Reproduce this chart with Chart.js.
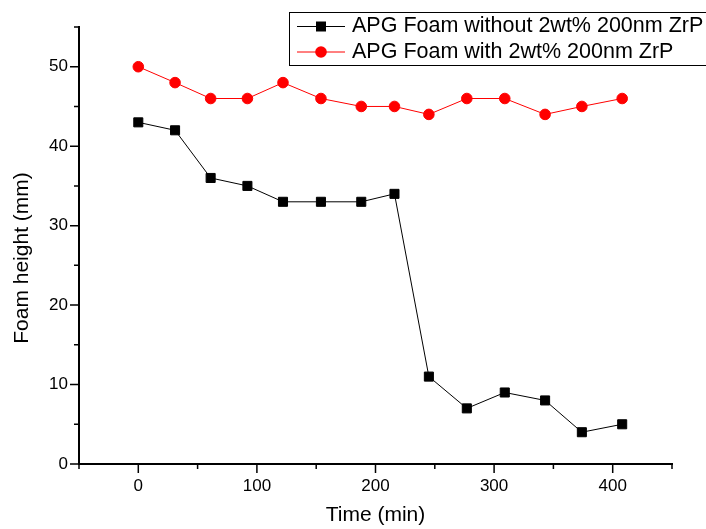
<!DOCTYPE html>
<html>
<head>
<meta charset="utf-8">
<script src="https://cdn.jsdelivr.net/npm/chart.js@4/dist/chart.umd.min.js"></script>
<style>
  html, body { margin: 0; padding: 0; background: #fff; }
  canvas { display: block; }
</style>
</head>
<body>
<canvas id="foamChart" width="706" height="529"></canvas>
<script>
// FOAM HEIGHT vs TIME

const timeMin = [0, 31, 61, 92, 122, 154, 188, 216, 245, 277, 309, 343, 374, 408];
const foamWithout = [43, 42, 36, 35, 33, 33, 33, 34, 11, 7, 9, 8, 4, 5];
const foamWith = [50, 48, 46, 46, 48, 46, 45, 45, 44, 46, 46, 44, 45, 46];

const seriesLabels = [
  "APG Foam without 2wt% 200nm ZrP",
  "APG Foam with 2wt% 200nm ZrP",
];
const xTitle = "Time (min)";
const yTitle = "Foam height (mm)";

const FONT = "'Liberation Sans', Arial, sans-serif";

const toPoints = (ys) => timeMin.map((t, i) => ({ x: t, y: ys[i] }));

// ticks: long ones at labelled values, short ones in between
const tickMarks = {
  id: "tickMarks",
  afterDraw(chart) {
    const ctx = chart.ctx;
    const xs = chart.scales.x;
    const ys = chart.scales.y;
    ctx.save();
    ctx.strokeStyle = "#000";
    ctx.lineWidth = 1.5;
    ctx.beginPath();
    xs.ticks.forEach((t) => {
      const px = xs.getPixelForValue(t.value);
      const len = t.value % 100 === 0 ? 9 : 5;
      ctx.moveTo(px, xs.top);
      ctx.lineTo(px, xs.top + len);
    });
    ys.ticks.forEach((t) => {
      const py = ys.getPixelForValue(t.value);
      const len = t.value % 10 === 0 ? 9 : 5;
      ctx.moveTo(ys.right, py);
      ctx.lineTo(ys.right - len, py);
    });
    ctx.stroke();

    // y axis title
    ctx.fillStyle = "#000";
    ctx.font = "21px " + FONT;
    ctx.textAlign = "center";
    ctx.textBaseline = "middle";
    ctx.translate(22, 258);
    ctx.rotate(-Math.PI / 2);
    ctx.fillText(yTitle, 0, 0);
    ctx.restore();
  },
};

// boxed legend in the top right corner
const boxLegend = {
  id: "boxLegend",
  afterDraw(chart) {
    const ctx = chart.ctx;
    const rows = [26.5, 52];
    ctx.save();
    ctx.strokeStyle = "#000";
    ctx.lineWidth = 1;
    ctx.strokeRect(289.5, 12.5, 430, 53);
    chart.data.datasets.forEach((ds, i) => {
      const y = rows[i];
      ctx.strokeStyle = ds.borderColor;
      ctx.lineWidth = 1;
      ctx.beginPath();
      ctx.moveTo(297, y);
      ctx.lineTo(345, y);
      ctx.stroke();
      ctx.fillStyle = ds.backgroundColor;
      ctx.beginPath();
      if (ds.pointStyle === "rect") {
        ctx.rect(321 - 5, y - 5, 10, 10);
      } else {
        ctx.arc(321, y, 5.8, 0, Math.PI * 2);
      }
      ctx.fill();
      ctx.fillStyle = "#000";
      ctx.font = "21.5px " + FONT;
      ctx.textAlign = "left";
      ctx.textBaseline = "middle";
      ctx.fillText(ds.label, 352, y);
    });
    ctx.restore();
  },
};

new Chart(document.getElementById("foamChart"), {
  type: "scatter",
  data: {
    datasets: [
      {
        label: seriesLabels[0],
        data: toPoints(foamWithout),
        showLine: true,
        borderColor: "#000",
        backgroundColor: "#000",
        borderWidth: 1,
        pointStyle: "rect",
        pointRadius: 6.4,
        pointBorderWidth: 1,
      },
      {
        label: seriesLabels[1],
        data: toPoints(foamWith),
        showLine: true,
        borderColor: "#ff0000",
        backgroundColor: "#ff0000",
        borderWidth: 1,
        pointStyle: "circle",
        pointRadius: 5.3,
        pointBorderWidth: 1,
      },
    ],
  },
  options: {
    responsive: false,
    animation: false,
    devicePixelRatio: 1,
    layout: {
      padding: { top: 27, right: 34, left: 0, bottom: 0 },
    },
    plugins: {
      legend: { display: false },
      tooltip: { enabled: false },
    },
    scales: {
      x: {
        type: "linear",
        min: -50,
        max: 450,
        afterFit: (scale) => {
          scale.height = 65;
        },
        grid: { display: false },
        border: { display: true, color: "#000", width: 2 },
        ticks: {
          stepSize: 50,
          autoSkip: false,
          maxRotation: 0,
          padding: 4,
          color: "#000",
          font: { family: FONT, size: 17 },
          callback: (v) => (v % 100 === 0 ? v : ""),
        },
        title: {
          display: true,
          text: xTitle,
          color: "#000",
          font: { family: FONT, size: 21 },
          padding: { top: 0, bottom: 1 },
        },
      },
      y: {
        min: 0,
        max: 55,
        afterFit: (scale) => {
          scale.width = 79;
        },
        grid: { display: false },
        border: { display: true, color: "#000", width: 2 },
        ticks: {
          stepSize: 5,
          autoSkip: false,
          padding: 3,
          color: "#000",
          font: { family: FONT, size: 17 },
          callback: (v) => (v % 10 === 0 ? v : ""),
        },
      },
    },
  },
  plugins: [tickMarks, boxLegend],
});
</script>
</body>
</html>
